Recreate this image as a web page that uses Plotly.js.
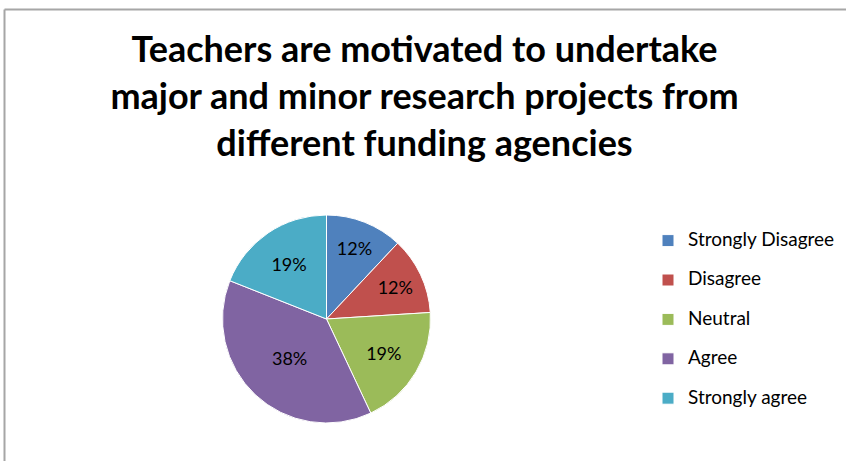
<!DOCTYPE html>
<html>
<head>
<meta charset="utf-8">
<script src="https://cdn.plot.ly/plotly-3.0.1.min.js"></script>
<style>html,body{margin:0;padding:0;background:#fff;}#chart{width:846px;height:461px;}</style>
</head>
<body>
<div id="chart"></div>
<script>
const categories = ["Strongly Disagree", "Disagree", "Neutral", "Agree", "Strongly agree"];
const values = [12, 12, 19, 38, 19];
const colors = ["#4F81BD", "#C0504D", "#9BBB59", "#8064A2", "#4BACC6"];
const titleLines = ["Teachers are motivated to undertake", "major and minor research projects from", "different funding agencies"];

const W = 846, H = 461;
const cx = 326.5, cy = 319, r = 104;

const legendNames = categories.map(c => "<span style='font-size:19px'>" + c + "</span><br>\u00a0");

const trace = {
  type: "pie",
  labels: legendNames,
  values: values,
  sort: false,
  direction: "clockwise",
  rotation: 0,
  marker: {colors: colors, line: {color: "#ffffff", width: 1}},
  textinfo: "percent",
  texttemplate: "%{percent:.0%}",
  textposition: "inside",
  insidetextorientation: "horizontal",
  textfont: {family: "Lato, 'Open Sans', sans-serif", size: 18, color: "#000000"},
  hoverinfo: "label+percent",
  domain: {x: [(cx - r) / W, (cx + r) / W], y: [1 - (cy + r) / H, 1 - (cy - r) / H]}
};

const layout = {
  width: W, height: H,
  margin: {l: 0, r: 0, t: 0, b: 0},
  paper_bgcolor: "#ffffff",
  plot_bgcolor: "#ffffff",
  font: {family: "Lato, 'Open Sans', sans-serif", color: "#000000"},
  title: {
    text: titleLines.join("<br>"),
    font: {family: "Lato, 'Open Sans', sans-serif", size: 36, color: "#000000", weight: "bold"},
    x: 424.5 / W, xanchor: "center", xref: "paper",
    y: 1 - 62 / H, yanchor: "top", yref: "container"
  },
  showlegend: true,
  legend: {
    x: 648 / W, xanchor: "left",
    y: 1 - 225 / H, yanchor: "top",
    valign: "top",
    font: {family: "Lato, 'Open Sans', sans-serif", size: 14, color: "#000000"},
    itemwidth: 30,
    bgcolor: "rgba(0,0,0,0)"
  },
  shapes: [
    {type: "line", xref: "paper", yref: "paper", x0: 4.5 / W, x1: 1, y0: 1 - 9.5 / H, y1: 1 - 9.5 / H, line: {color: "#A6A6A6", width: 2}},
    {type: "line", xref: "paper", yref: "paper", x0: 4.5 / W, x1: 4.5 / W, y0: 0, y1: 1 - 9.5 / H, line: {color: "#A6A6A6", width: 2}}
  ]
};

Plotly.newPlot("chart", [trace], layout, {displayModeBar: false, staticPlot: true});
</script>
</body>
</html>
